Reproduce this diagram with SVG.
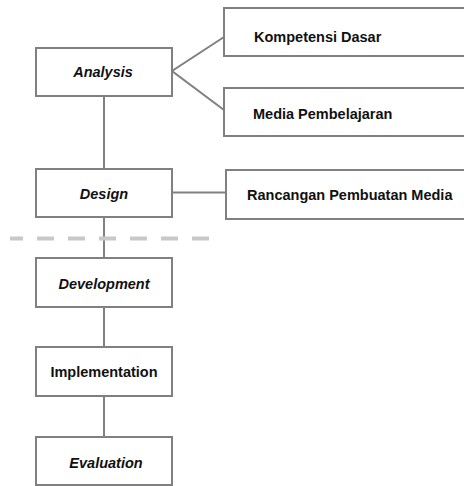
<svg xmlns="http://www.w3.org/2000/svg" width="464" height="486" viewBox="0 0 464 486">
  <style>
    .box { fill: #ffffff; stroke: #808080; stroke-width: 2; }
    .link { fill: none; stroke: #808080; stroke-width: 2; }
    .divider { fill: none; stroke: #c8c8c8; stroke-width: 4; stroke-dasharray: 17 14; }
    .label { font-family: "Liberation Sans", Arial, sans-serif; font-size: 14.5px; font-weight: bold; fill: #111111; }
    .phase { text-anchor: middle; font-style: italic; }
    .plain { text-anchor: middle; }
  </style>
  <rect width="464" height="486" fill="#ffffff"/>

  <!-- connectors -->
  <g id="connectors">
    <line class="link" x1="104" y1="96" x2="104" y2="168"/>
    <line class="link" x1="104" y1="217" x2="104" y2="258"/>
    <line class="link" x1="104" y1="307" x2="104" y2="347"/>
    <line class="link" x1="104" y1="396" x2="104" y2="437"/>
    <polyline class="link" points="224,37 172,71 224,110"/>
    <line class="link" x1="172" y1="192.5" x2="226" y2="192.5"/>
  </g>

  <!-- dashed divider between design and development -->
  <line class="divider" x1="10" y1="238.5" x2="209" y2="238.5" stroke-dashoffset="4"/>

  <g id="analysis">
    <rect class="box" x="36" y="48" width="136" height="48"/>
    <text class="label phase" x="103" y="77">Analysis</text>
  </g>
  <g id="design">
    <rect class="box" x="36" y="169" width="136" height="48"/>
    <text class="label phase" x="104" y="199">Design</text>
  </g>
  <g id="development">
    <rect class="box" x="36" y="258" width="136" height="49"/>
    <text class="label phase" x="104" y="289">Development</text>
  </g>
  <g id="implementation">
    <rect class="box" x="36" y="347" width="136" height="49"/>
    <text class="label plain" x="104" y="377">Implementation</text>
  </g>
  <g id="evaluation">
    <rect class="box" x="36" y="437" width="136" height="48"/>
    <text class="label phase" x="106" y="468">Evaluation</text>
  </g>

  <g id="kompetensi-dasar">
    <rect class="box" x="224" y="8" width="250" height="48"/>
    <text class="label" x="254" y="42">Kompetensi Dasar</text>
  </g>
  <g id="media-pembelajaran">
    <rect class="box" x="224" y="88" width="250" height="48"/>
    <text class="label" x="253" y="119">Media Pembelajaran</text>
  </g>
  <g id="rancangan-pembuatan-media">
    <rect class="box" x="226" y="170" width="250" height="49"/>
    <text class="label" x="247" y="199.5">Rancangan Pembuatan Media</text>
  </g>
</svg>
